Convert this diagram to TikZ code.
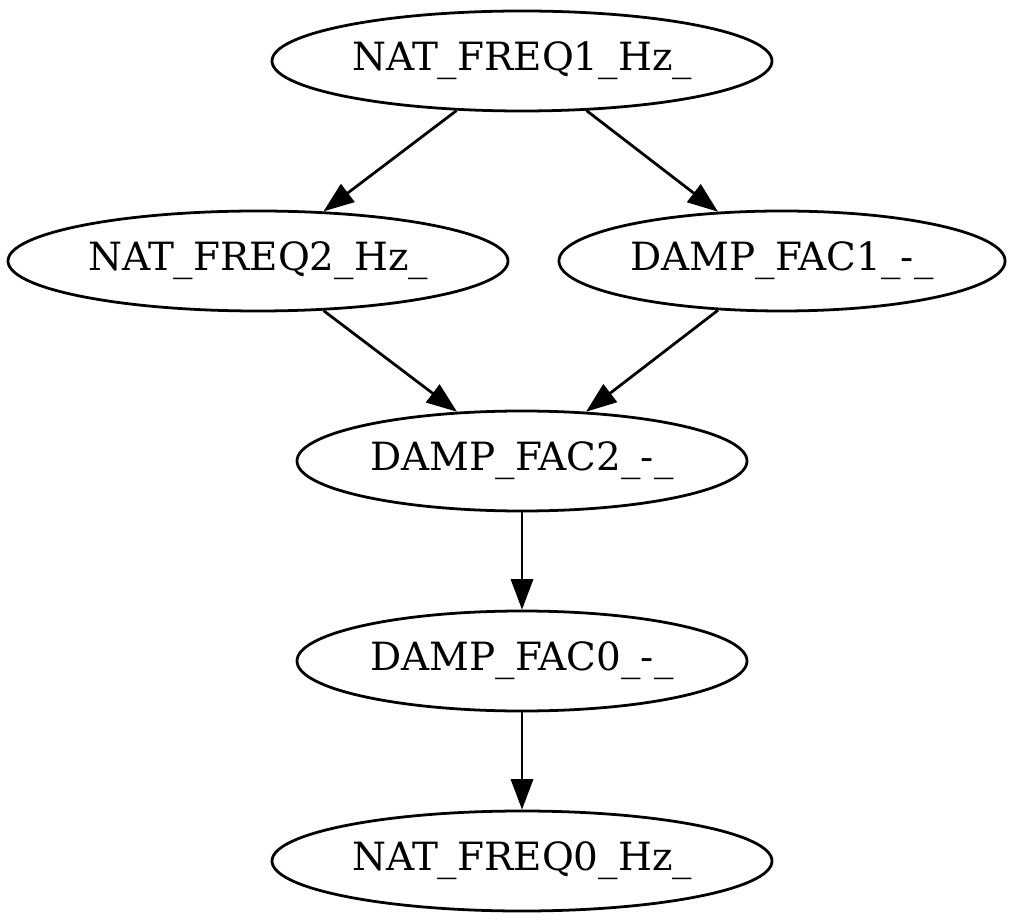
\documentclass[tikz,border=0pt]{standalone}
\usepackage{fontspec}
\setmainfont{DejaVu Serif}
\usetikzlibrary{shapes.geometric, arrows.meta}

\begin{document}
\begin{tikzpicture}[x=0.36pt, y=0.36pt,
  var/.style={draw, ellipse, line width=1pt, inner sep=0pt, minimum height=36pt,
    font=\fontsize{14pt}{16pt}\selectfont},
  dep/.style={-{Triangle[length=11pt, width=8pt]}, line width=1pt}]
\useasboundingbox (0,0) rectangle (1016,922);
\node[var, minimum width=180pt] (nf1) at (522,861) {NAT\_FREQ1\_Hz\_};
\node[var, minimum width=180pt] (nf2) at (258,661) {NAT\_FREQ2\_Hz\_};
\node[var, minimum width=160.6pt] (df1) at (782,661) {DAMP\_FAC1\_-\_};
\node[var, minimum width=162pt] (df2) at (522,461) {DAMP\_FAC2\_-\_};
\node[var, minimum width=162pt] (df0) at (522,261) {DAMP\_FAC0\_-\_};
\node[var, minimum width=180pt] (nf0) at (522,61) {NAT\_FREQ0\_Hz\_};
\draw[dep] (nf1)--(nf2);
\draw[dep] (nf1)--(df1);
\draw[dep] (nf2)--(df2);
\draw[dep] (df1)--(df2);
\draw[dep] (df2)--(df0);
\draw[dep] (df0)--(nf0);
\end{tikzpicture}
\end{document}
